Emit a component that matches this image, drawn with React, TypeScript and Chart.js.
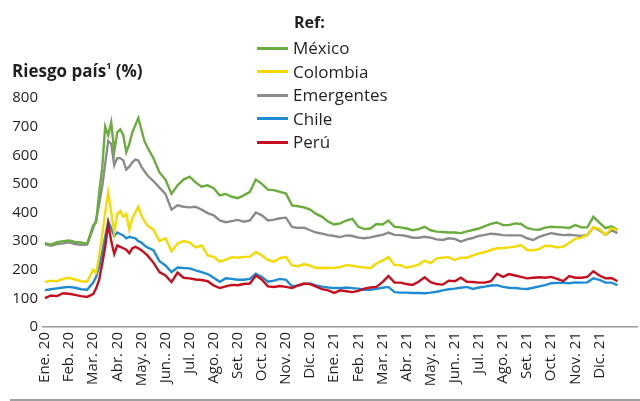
import React, { useEffect, useRef } from "react";
import { Chart, registerables } from "chart.js";

Chart.register(...registerables);

// Month tick labels (one per month start)
const monthLabels = [
  "Ene. 20", "Feb. 20", "Mar. 20", "Abr. 20", "May. 20", "Jun.. 20", "Jul. 20", "Ago. 20",
  "Set. 20", "Oct. 20", "Nov. 20", "Dic. 20", "Ene. 21", "Feb. 21", "Mar. 21", "Abr. 21",
  "May. 21", "Jun.. 21", "Jul. 21", "Ago. 21", "Set. 21", "Oct. 21", "Nov. 21", "Dic. 21",
];

// Observation times, in months since Jan 2020
const t = [
  0, 0.25, 0.5, 0.75, 1, 1.25, 1.5, 1.75,
  2, 2.125, 2.25, 2.375, 2.5, 2.625, 2.75, 2.875, 3, 3.125, 3.25, 3.375, 3.5, 3.625, 3.75, 3.875, 4, 4.125, 4.25,
  4.5, 4.75, 5, 5.25, 5.5, 5.75, 6, 6.25, 6.5, 6.75,
  7, 7.25, 7.5, 7.75, 8, 8.25, 8.5, 8.75, 9, 9.25,
  9.5, 9.75, 10, 10.25, 10.5, 10.75, 11, 11.25, 11.5, 11.75,
  12, 12.25, 12.5, 12.75, 13, 13.25, 13.5, 13.75, 14, 14.25,
  14.5, 14.75, 15, 15.25, 15.5, 15.75, 16, 16.25, 16.5, 16.75,
  17, 17.25, 17.5, 17.75, 18, 18.25, 18.5, 18.75, 19, 19.25,
  19.5, 19.75, 20, 20.25, 20.5, 20.75, 21, 21.25, 21.5, 21.75,
  22, 22.25, 22.5, 22.75, 23, 23.25, 23.5, 23.75,
];

const mexico = [
  293, 288, 296, 300, 302, 297, 295, 290,
  355, 365, 470, 555, 700, 670, 715, 612, 680, 690, 670, 610, 640, 680, 705, 730, 690, 650, 628,
  590, 540, 515, 465, 495, 515, 525, 505, 490, 495,
  485, 460, 465, 455, 450, 460, 472, 515, 500, 480,
  478, 472, 466, 425, 422, 418, 410, 395, 385, 368,
  358, 362, 372, 378, 350, 342, 344, 360, 358, 372,
  350, 348, 344, 338, 342, 350, 338, 333, 332, 330,
  330, 328, 334, 339, 344, 352, 360, 365, 356, 356,
  362, 360, 346, 341, 340, 347, 350, 349, 348, 346,
  356, 348, 348, 385, 365, 345, 352, 340,
];

const colombia = [
  157, 162, 160, 168, 172, 166, 160, 158,
  200, 190, 250, 320, 400, 470, 400, 330, 395, 405, 385, 395, 340, 380, 400, 420, 390, 370, 355,
  340, 300, 310, 265, 292, 300, 295, 278, 285, 250,
  245, 228, 235, 244, 242, 245, 246, 262, 250, 234,
  228, 241, 244, 215, 212, 220, 214, 206, 207, 206,
  207, 209, 216, 214, 210, 208, 206, 222, 232, 244,
  216, 216, 207, 212, 218, 232, 223, 240, 242, 244,
  234, 242, 242, 250, 257, 262, 269, 275, 276, 278,
  281, 286, 269, 268, 272, 284, 283, 278, 281, 294,
  308, 312, 322, 349, 342, 322, 345, 339,
];

const emergentes = [
  290, 284, 290, 292, 296, 290, 287, 288,
  345, 375, 430, 490, 570, 650, 640, 565, 590, 590, 582, 550, 560, 575, 585, 582, 560, 545, 530,
  510, 487, 465, 410, 425, 420, 418, 420, 410, 398,
  390, 372, 366, 370, 374, 368, 372, 400, 390, 372,
  375, 380, 382, 350, 346, 347, 338, 330, 326, 321,
  318, 314, 320, 318, 312, 310, 313, 318, 322, 330,
  322, 321, 318, 312, 312, 315, 312, 306, 304, 310,
  308, 298, 306, 311, 318, 322, 326, 324, 321, 320,
  320, 320, 310, 304, 315, 322, 328, 324, 321, 322,
  320, 318, 322, 348, 338, 322, 338, 328,
];

const chile = [
  129, 132, 135, 138, 140, 137, 132, 130,
  155, 175, 210, 260, 315, 370, 345, 318, 330, 325, 320, 310, 315, 312, 310, 300, 295, 285, 278,
  268, 230, 215, 192, 208, 206, 205, 198, 192, 185,
  172, 158, 170, 168, 165, 165, 168, 186, 175, 158,
  162, 168, 165, 142, 145, 150, 152, 145, 141, 138,
  136, 136, 138, 136, 134, 130, 130, 133, 137, 140,
  122, 120, 120, 119, 119, 118, 120, 123, 128, 132,
  134, 137, 140, 133, 138, 141, 145, 146, 140, 137,
  136, 134, 133, 137, 142, 146, 153, 154, 154, 153,
  156, 155, 156, 170, 165, 155, 155, 146,
];

const peru = [
  101, 110, 108, 118, 116, 112, 108, 105,
  115, 135, 165, 220, 280, 360, 300, 255, 285, 280, 275, 270, 258, 275, 280, 275, 268, 260, 250,
  225, 192, 180, 157, 190, 172, 170, 166, 164, 160,
  145, 136, 142, 147, 146, 150, 152, 180, 165, 142,
  140, 143, 140, 136, 145, 152, 150, 141, 132, 128,
  119, 128, 125, 122, 126, 134, 138, 140, 157, 178,
  155, 155, 150, 147, 158, 174, 157, 150, 148, 162,
  160, 172, 158, 157, 155, 155, 160, 186, 175, 185,
  180, 175, 170, 172, 174, 172, 175, 168, 160, 178,
  172, 172, 175, 195, 180, 170, 171, 160,
];

const yTicks = [0, 100, 200, 300, 400, 500, 600, 700, 800];

const series = [
  { name: "México", values: mexico, color: "#6aad3d", order: 4 },
  { name: "Colombia", values: colombia, color: "#f5da00", order: 1 },
  { name: "Emergentes", values: emergentes, color: "#8b8b8b", order: 5 },
  { name: "Chile", values: chile, color: "#1e8cd3", order: 3 },
  { name: "Perú", values: peru, color: "#c70f1f", order: 2 },
];

const FONT = "'Open Sans', 'Noto Sans', sans-serif";
const TEXT = "#231f20";

export default function App() {
  const ref = useRef<HTMLCanvasElement | null>(null);

  useEffect(() => {
    if (!ref.current) return;
    const chart = new Chart(ref.current, {
      type: "line",
      data: {
        datasets: series.map((s) => ({
          label: s.name,
          data: t.map((x, i) => ({ x, y: s.values[i] })),
          borderColor: s.color,
          backgroundColor: s.color,
          borderWidth: 2.4,
          pointRadius: 0,
          fill: false,
          tension: 0,
          order: s.order,
        })),
      },
      options: {
        animation: false,
        responsive: false,
        maintainAspectRatio: false,
        layout: { padding: { top: 98, right: 3, left: 0, bottom: 0 } },
        plugins: { legend: { display: false }, tooltip: { enabled: false } },
        scales: {
          x: {
            type: "linear",
            min: -0.08,
            max: 24.56,
            grid: { display: false, drawTicks: false },
            border: { display: true, color: "#9c9c9c", width: 1.5 },
            ticks: {
              autoSkip: false,
              maxRotation: 90,
              minRotation: 90,
              padding: 5,
              color: TEXT,
              font: { family: FONT, size: 15 },
              callback: (v: any) => monthLabels[v as number] ?? "",
            },
            afterBuildTicks: (s: any) => {
              s.ticks = monthLabels.map((_, i) => ({ value: i }));
            },
            afterFit: (s: any) => {
              s.height = 74;
            },
          },
          y: {
            min: 0,
            max: 800,
            grid: { display: false, drawTicks: false },
            border: { display: false },
            ticks: {
              padding: 5,
              color: TEXT,
              font: { family: FONT, size: 15 },
              callback: (v: any) => String(v),
            },
            afterBuildTicks: (s: any) => {
              s.ticks = yTicks.map((v) => ({ value: v }));
            },
            afterFit: (s: any) => {
              s.width = 43;
            },
          },
        },
      },
    });
    return () => chart.destroy();
  }, []);

  const rowTop = 39;
  const rowStep = 23.6;

  return (
    <div style={{ position: "absolute", left: 0, top: 0, width: 640, height: 401, background: "#fff", overflow: "hidden", fontFamily: FONT, color: TEXT }}>
      <canvas ref={ref} width={640} height={401} style={{ position: "absolute", left: 0, top: 0, display: "block" }} />
      <div style={{ position: "absolute", left: 12, top: 62, fontSize: 17, fontWeight: 700, lineHeight: 1, whiteSpace: "nowrap" }}>
        Riesgo país<sup style={{ fontSize: 9, verticalAlign: "top", position: "relative", top: -1 }}>1</sup> (%)
      </div>
      <div style={{ position: "absolute", left: 294, top: 14, fontSize: 16, fontWeight: 700, lineHeight: 1 }}>Ref:</div>
      {series.map((s, i) => (
        <React.Fragment key={s.name}>
          <div style={{ position: "absolute", left: 257, top: rowTop + i * rowStep + 7.5, width: 31, height: 3, background: s.color }} />
          <div style={{ position: "absolute", left: 293, top: rowTop + i * rowStep, fontSize: 17, lineHeight: 1, whiteSpace: "nowrap" }}>{s.name}</div>
        </React.Fragment>
      ))}
      <div style={{ position: "absolute", left: 10, top: 399, width: 630, height: 1.5, background: "#a0a0a0" }} />
    </div>
  );
}
